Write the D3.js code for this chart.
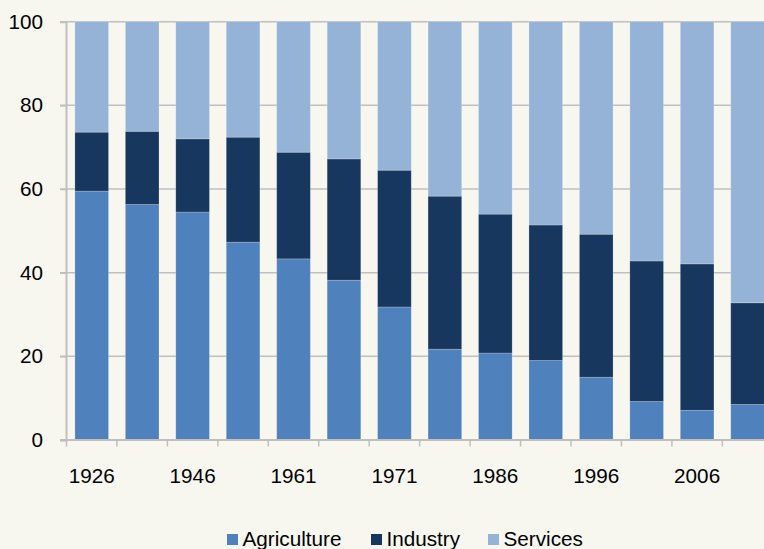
<!DOCTYPE html>
<html>
<head>
<meta charset="utf-8">
<script src="https://cdn.jsdelivr.net/npm/d3@7"></script>
<style>
  html, body { margin: 0; padding: 0; background: #f7f7f0; }
  svg { display: block; font-family: "Liberation Sans", Arial, sans-serif; }
</style>
</head>
<body>
<svg id="chart" width="764" height="549"></svg>
<script>
// census years (only every other one gets a label)
var years = ["1926", "1936", "1946", "1951", "1961", "1966", "1971", "1981", "1986", "1991", "1996", "2002", "2006", "2011"];
var agriculture = [59.5, 56.3, 54.5, 47.3, 43.3, 38.2, 31.8, 21.7, 20.8, 19.0, 15.0, 9.2, 7.1, 8.5];
var industry    = [14.1, 17.5, 17.5, 25.1, 25.5, 29.0, 32.7, 36.6, 33.2, 32.4, 34.2, 33.6, 35.0, 24.3];
var services    = [26.4, 26.2, 28.0, 27.6, 31.2, 32.8, 35.5, 41.7, 46.0, 48.6, 50.8, 57.2, 57.9, 67.2];
var seriesNames = ["Agriculture", "Industry", "Services"];
var seriesColors = ["#4f81bd", "#17375e", "#95b3d7"];
var yTicks = [0, 20, 40, 60, 80, 100];

var fontSize = 20.7;
var svg = d3.select("#chart");

var rows = years.map(function(y, i) {
  return { year: y, Agriculture: agriculture[i], Industry: industry[i], Services: services[i] };
});

var x = d3.scaleBand()
    .domain(years)
    .range([66.5, 772.8])
    .paddingInner(1 / 3)
    .paddingOuter(1 / 6);

var y = d3.scaleLinear()
    .domain([0, 100])
    .range([440, 21.7]);

var color = d3.scaleOrdinal().domain(seriesNames).range(seriesColors);

// gridlines
svg.append("g")
    .selectAll("line")
    .data(yTicks.filter(function(d) { return d > 0; }))
    .enter().append("line")
    .attr("x1", 60)
    .attr("x2", 764)
    .attr("y1", function(d) { return y(d); })
    .attr("y2", function(d) { return y(d); })
    .attr("stroke", "#bfbfbf")
    .attr("stroke-width", 1.5);

// stacked bars
var stack = d3.stack().keys(seriesNames);
svg.append("g")
  .selectAll("g")
  .data(stack(rows))
  .enter().append("g")
    .attr("fill", function(d) { return color(d.key); })
  .selectAll("rect")
  .data(function(d) { return d; })
  .enter().append("rect")
    .attr("x", function(d) { return x(d.data.year); })
    .attr("width", x.bandwidth())
    .attr("y", function(d) { return y(d[1]); })
    .attr("height", function(d) { return y(d[0]) - y(d[1]); })
    .attr("stroke", "#ffffff")
    .attr("stroke-opacity", 0.25)
    .attr("stroke-width", 0.8);

// y axis
var yAxis = svg.append("g")
    .attr("transform", "translate(66,0)")
    .call(d3.axisLeft(y).tickValues(yTicks).tickSize(6).tickPadding(17));
yAxis.select(".domain").attr("stroke", "#bfbfbf").attr("stroke-width", 2);
yAxis.selectAll(".tick line").attr("stroke", "#bfbfbf").attr("stroke-width", 1.5);
yAxis.selectAll("text")
    .attr("font-size", fontSize)
    .attr("fill", "#000")
    .attr("font-family", "Liberation Sans, Arial, sans-serif");

// x axis baseline and ticks at category boundaries
var xg = svg.append("g");
xg.append("line")
    .attr("x1", 60).attr("x2", 764)
    .attr("y1", y(0)).attr("y2", y(0))
    .attr("stroke", "#bfbfbf").attr("stroke-width", 2);
xg.selectAll("line.tk")
    .data(years)
    .enter().append("line")
    .attr("class", "tk")
    .attr("x1", function(d) { return x(d) - x.bandwidth() / 4; })
    .attr("x2", function(d) { return x(d) - x.bandwidth() / 4; })
    .attr("y1", y(0))
    .attr("y2", y(0) + 6.5)
    .attr("stroke", "#bfbfbf")
    .attr("stroke-width", 1.5);
xg.selectAll("text")
    .data(years.filter(function(d, i) { return i % 2 === 0; }))
    .enter().append("text")
    .attr("x", function(d) { return x(d) + x.bandwidth() / 2; })
    .attr("y", 483)
    .attr("text-anchor", "middle")
    .attr("font-size", fontSize)
    .attr("fill", "#000")
    .text(function(d) { return d; });

// legend
var legendX = [227, 371, 488];
var legend = svg.append("g");
seriesNames.forEach(function(name, i) {
  legend.append("rect")
      .attr("x", legendX[i])
      .attr("y", 534)
      .attr("width", 11)
      .attr("height", 11)
      .attr("fill", color(name));
  legend.append("text")
      .attr("x", legendX[i] + 15.5)
      .attr("y", 546)
      .attr("font-size", fontSize)
      .attr("fill", "#000")
      .text(name);
});
</script>
</body>
</html>
